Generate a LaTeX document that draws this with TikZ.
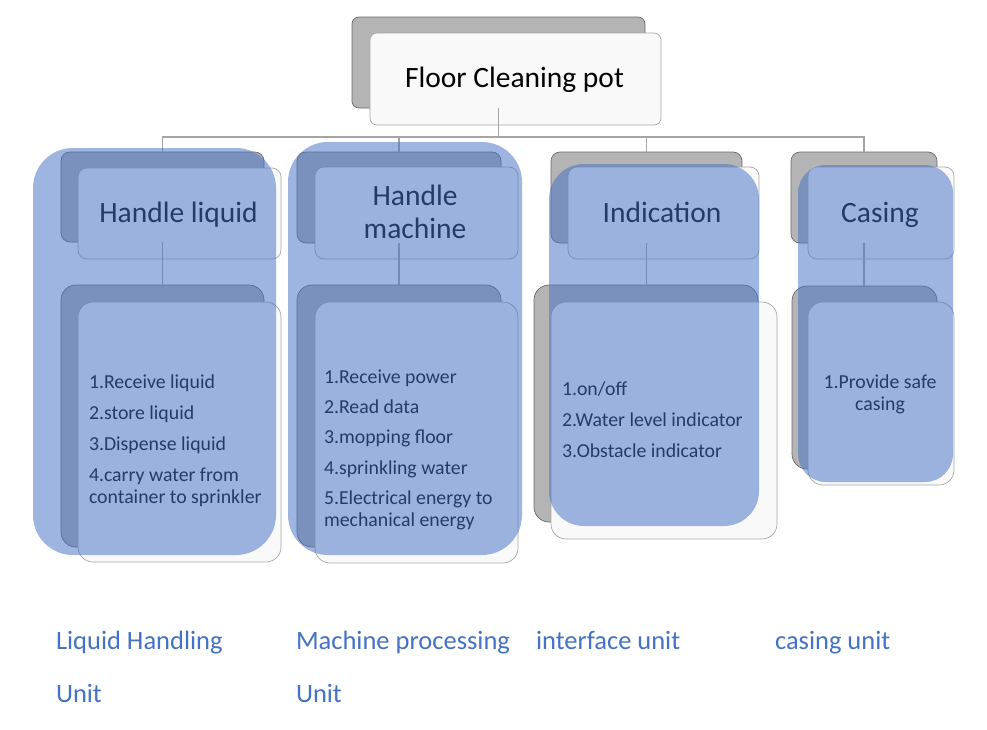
\documentclass[tikz,border=0pt]{standalone}
\usepackage{fontspec}
\setmainfont{Carlito}
\definecolor{backfill}{RGB}{180,180,180}
\definecolor{backdraw}{RGB}{105,105,105}
\definecolor{frontfill}{RGB}{249,249,249}
\definecolor{frontdraw}{RGB}{168,168,168}
\definecolor{connc}{RGB}{165,165,165}
\definecolor{ovl}{RGB}{68,114,196}
\definecolor{lbl}{RGB}{68,114,196}
\newcommand\mkbox[6]{\node[#6, minimum width={#4-#2}, minimum height={#5-#3}] (#1) at ({(#2+#4)/2},{(#3+#5)/2}) {};}
\begin{document}
\begin{tikzpicture}[x=1pt,y=-1pt,
  backbox/.style={draw=backdraw, fill=backfill, line width=0.7pt, inner sep=0pt, outer sep=0pt},
  frontbox/.style={draw=frontdraw, fill=frontfill, line width=0.7pt, inner sep=0pt, outer sep=0pt},
  hdr/.style={rounded corners=9pt},
  bdy/.style={rounded corners=15pt},
  conn/.style={draw=connc, line width=1.3pt},
  overlay/.style={fill=ovl, fill opacity=0.52},
  txt/.style={inner sep=0pt, outer sep=0pt, text=black},
  hfont/.style={font=\fontsize{29.5}{34}\selectfont},
  bfont/.style={font=\fontsize{19.8}{23}\selectfont},
  lfont/.style={font=\fontsize{26.5}{30}\selectfont, text=lbl}
]
\fill[white] (0,0) rectangle (987,729);
\useasboundingbox (0,0) rectangle (987,729);

% top box
\mkbox{topback}{352}{17}{645}{108}{backbox,rounded corners=7pt}
\mkbox{topfront}{370}{33}{661}{125}{frontbox,rounded corners=7pt}

% column boxes
\mkbox{h1back}{61}{152}{264}{242}{backbox,hdr}
\mkbox{h1front}{78}{168}{281}{259}{frontbox,hdr}
\mkbox{b1back}{61}{285}{264}{547}{backbox,bdy}
\mkbox{b1front}{78}{302}{281}{562}{frontbox,bdy}

\mkbox{h2back}{297}{152}{501}{243}{backbox,hdr}
\mkbox{h2front}{315}{167}{518}{259}{frontbox,hdr}
\mkbox{b2back}{297}{285}{501}{547}{backbox,bdy}
\mkbox{b2front}{315}{302}{518}{563}{frontbox,bdy}

\mkbox{h3back}{551}{152}{742}{243}{backbox,hdr}
\mkbox{h3front}{568}{167}{759}{259}{frontbox,hdr}
\mkbox{b3back}{534}{285}{758}{522}{backbox,bdy}
\mkbox{b3front}{551}{302}{777}{539}{frontbox,bdy}

\mkbox{h4back}{791}{152}{937}{243}{backbox,hdr}
\mkbox{h4front}{808}{167}{954}{259}{frontbox,hdr}
\mkbox{b4back}{792}{286}{937}{469}{backbox,bdy}
\mkbox{b4front}{808}{302}{954}{485}{frontbox,bdy}

% connectors
\draw[conn] (topback.south) -- ++(0,29) -| (h1back.north);
\draw[conn] (topback.south) -- ++(0,29) -| (h2back.north);
\draw[conn] (topback.south) -- ++(0,29) -| (h3back.north);
\draw[conn] (topback.south) -- ++(0,29) -| (h4back.north);
\draw[conn] (h1back.south) -- (h1back.south |- b1back.north);
\draw[conn] (h2back.south) -- (h2back.south |- b2back.north);
\draw[conn] (h3back.south) -- (h3back.south |- b3back.north);
\draw[conn] (h4back.south) -- (h4back.south |- b4back.north);

% texts
\node[txt,hfont,anchor=base] (t0) at (514.5,87) {Floor Cleaning pot};
\node[txt,hfont,anchor=base] (t1) at (178.5,222) {Handle liquid};
\node[txt,hfont,anchor=base] (t2a) at (415,205) {Handle};
\node[txt,hfont,anchor=base] (t2b) at (415,238) {machine};
\node[txt,hfont,anchor=base] (t3) at (662,222) {Indication};
\node[txt,hfont,anchor=base] (t4) at (880,222) {Casing};

\node[txt,bfont,anchor=base west] (c1a) at (89,388) {1.Receive liquid};
\node[txt,bfont,anchor=base west] (c1b) at (89,419) {2.store liquid};
\node[txt,bfont,anchor=base west] (c1c) at (89,450) {3.Dispense liquid};
\node[txt,bfont,anchor=base west] (c1d) at (89,481) {4.carry water from};
\node[txt,bfont,anchor=base west] (c1e) at (89,503) {container to sprinkler};

\node[txt,bfont,anchor=base west] (c2a) at (324,383) {1.Receive power};
\node[txt,bfont,anchor=base west] (c2b) at (324,413) {2.Read data};
\node[txt,bfont,anchor=base west] (c2c) at (324,443) {3.mopping floor};
\node[txt,bfont,anchor=base west] (c2d) at (324,474) {4.sprinkling water};
\node[txt,bfont,anchor=base west] (c2e) at (324,504) {5.Electrical energy to};
\node[txt,bfont,anchor=base west] (c2f) at (324,526) {mechanical energy};

\node[txt,bfont,anchor=base west] (c3a) at (562,395) {1.on/off};
\node[txt,bfont,anchor=base west] (c3b) at (562,426) {2.Water level indicator};
\node[txt,bfont,anchor=base west] (c3c) at (562,457) {3.Obstacle indicator};

\node[txt,bfont,anchor=base] (c4a) at (880,388) {1.Provide safe};
\node[txt,bfont,anchor=base] (c4b) at (880,410) {casing};

% blue overlays
\path[overlay,rounded corners=40pt] (33,148) rectangle (276,555);
\path[overlay,rounded corners=40pt] (288,142) rectangle (522,555);
\path[overlay,rounded corners=35pt] (549,164) rectangle (759,526);
\path[overlay,rounded corners=28pt] (798,165) rectangle (953,482);

% bottom labels
\node[txt,lfont,anchor=base west] (l1a) at (56,649) {Liquid Handling};
\node[txt,lfont,anchor=base west] (l1b) at (56,702) {Unit};
\node[txt,lfont,anchor=base west] (l2a) at (296,649) {Machine processing};
\node[txt,lfont,anchor=base west] (l2b) at (296,702) {Unit};
\node[txt,lfont,anchor=base west] (l3) at (536,649) {interface unit};
\node[txt,lfont,anchor=base west] (l4) at (775,649) {casing unit};
\end{tikzpicture}
\end{document}
